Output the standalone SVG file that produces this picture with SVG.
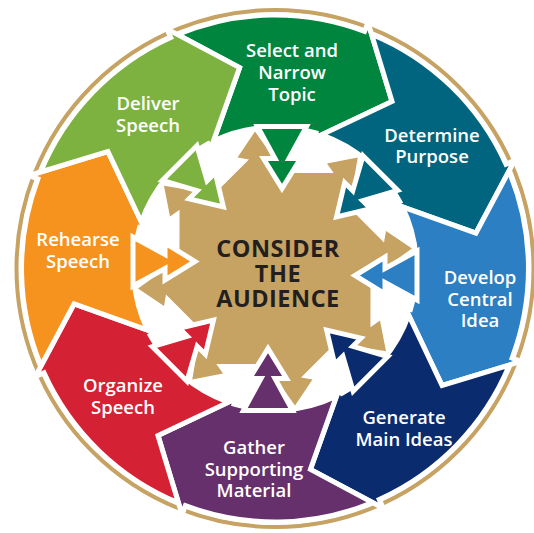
<svg xmlns="http://www.w3.org/2000/svg" xmlns:xlink="http://www.w3.org/1999/xlink" width="534" height="533" viewBox="0 0 534 533">
<style>
.seg{stroke:#fff;stroke-width:5;stroke-linejoin:miter;stroke-miterlimit:10}
.lbl{font-family:"Open Sans","DejaVu Sans",sans-serif;font-weight:600;font-size:18.5px;fill:#fff;text-anchor:middle}
.ctr{font-family:"Open Sans","DejaVu Sans",sans-serif;font-weight:700;font-size:23.5px;letter-spacing:0.5px;fill:#231f20;text-anchor:middle}
</style>
<defs>
<path id="band" d="M -97.5 -234 A 253.5 253.5 0 0 1 89.6 -237.1 L 93 -246 L 117 -167.1 L 39.3 -130.2 L 40.9 -135.5 A 141.5 141.5 0 0 0 -61.6 -127.4 L -35.4 -200.9 Z"/>
<path id="inarr" d="M -17.5 -142 L 31.5 -142 L 14 -110 L 25.5 -110 L 7 -80 L -11.5 -110 L 0 -110 Z"/>
<path id="arm" d="M 0 0 L -67.2 -67.9 L -26 -109 L -37.5 -111 L -20 -137 L -1.5 -111 L -13 -109 L 0.5 -95.5 Z"/>
</defs>
<rect width="534" height="533" fill="#fff"/>
<circle cx="275" cy="268.5" r="258.5" fill="none" stroke="#C6A263" stroke-width="4"/>

<g id="consider-audience">
 <g transform="translate(275 268.5)" fill="#C6A263">
  <use href="#arm"/>
  <use href="#arm" transform="rotate(45)"/>
  <use href="#arm" transform="rotate(90)"/>
  <use href="#arm" transform="rotate(135)"/>
  <use href="#arm" transform="rotate(180)"/>
  <use href="#arm" transform="rotate(225)"/>
  <use href="#arm" transform="rotate(270)"/>
  <use href="#arm" transform="rotate(315)"/>
  <polygon points="0.5,-95.5 67.9,-67.2 95.5,0.5 67.2,67.9 -0.5,95.5 -67.9,67.2 -95.5,-0.5 -67.2,-67.9"/>
 </g>
 <text class="ctr" x="278" y="257">CONSIDER</text>
 <text class="ctr" x="278" y="282">THE</text>
 <text class="ctr" x="278" y="307">AUDIENCE</text>
</g>

<g id="select-topic">
 <use href="#band" class="seg" fill="#00853F" transform="translate(275 268.5)"/>
 <text class="lbl"><tspan x="292" y="57">Select and</tspan><tspan x="292" y="79">Narrow</tspan><tspan x="292" y="101">Topic</tspan></text>
</g>
<g id="determine-purpose">
 <use href="#band" class="seg" fill="#02657F" transform="translate(275 268.5) rotate(45)"/>
 <text class="lbl"><tspan x="432" y="141.5">Determine</tspan><tspan x="432" y="163">Purpose</tspan></text>
</g>
<g id="develop-central-idea">
 <use href="#band" class="seg" fill="#2B7FC2" transform="translate(275 268.5) rotate(90)"/>
 <text class="lbl"><tspan x="480" y="284">Develop</tspan><tspan x="480" y="306">Central</tspan><tspan x="480" y="327">Idea</tspan></text>
</g>
<g id="generate-main-ideas">
 <use href="#band" class="seg" fill="#0A2C6E" transform="translate(275 268.5) rotate(135)"/>
 <text class="lbl"><tspan x="404" y="424">Generate</tspan><tspan x="404" y="446">Main Ideas</tspan></text>
</g>
<g id="gather-material">
 <use href="#band" class="seg" fill="#65306B" transform="translate(275 268.5) rotate(180)"/>
 <text class="lbl"><tspan x="254" y="454">Gather</tspan><tspan x="254" y="476">Supporting</tspan><tspan x="254" y="497">Material</tspan></text>
</g>
<g id="organize-speech">
 <use href="#band" class="seg" fill="#D42134" transform="translate(275 268.5) rotate(225)"/>
 <text class="lbl"><tspan x="123" y="392">Organize</tspan><tspan x="123" y="414">Speech</tspan></text>
</g>
<g id="rehearse-speech">
 <use href="#band" class="seg" fill="#F6931F" transform="translate(275 268.5) rotate(270)"/>
 <text class="lbl"><tspan x="78" y="246">Rehearse</tspan><tspan x="78" y="268">Speech</tspan></text>
</g>
<g id="deliver-speech">
 <use href="#band" class="seg" fill="#7DB240" transform="translate(275 268.5) rotate(315)"/>
 <text class="lbl"><tspan x="148" y="110">Deliver</tspan><tspan x="148" y="132">Speech</tspan></text>
</g>

<g id="connectors" transform="translate(275 268.5)">
 <use href="#inarr" class="seg" fill="#00853F"/>
 <use href="#inarr" class="seg" fill="#02657F" transform="rotate(45)"/>
 <use href="#inarr" class="seg" fill="#2B7FC2" transform="rotate(90)"/>
 <use href="#inarr" class="seg" fill="#0A2C6E" transform="rotate(135)"/>
 <use href="#inarr" class="seg" fill="#65306B" transform="rotate(180)"/>
 <use href="#inarr" class="seg" fill="#D42134" transform="rotate(225)"/>
 <use href="#inarr" class="seg" fill="#F6931F" transform="rotate(270)"/>
 <use href="#inarr" class="seg" fill="#7DB240" transform="rotate(315)"/>
</g>
</svg>
